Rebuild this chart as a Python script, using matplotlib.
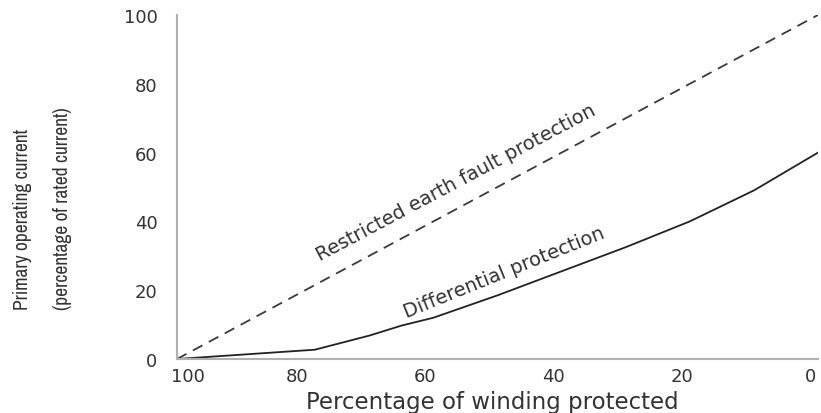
import matplotlib
matplotlib.use("Agg")
import matplotlib.pyplot as plt
import matplotlib.transforms as mtransforms
from matplotlib import font_manager as fm

# Data
winding_protected = [100, 0]
ref_current = [0, 100]

diff_x = [100, 78.5, 70, 65, 60, 50, 40, 30, 20, 10, 0]
diff_y = [0, 2.7, 6.8, 9.7, 12.0, 18.5, 25.5, 32.5, 40.0, 49.0, 60.0]

x_ticks = [100, 80, 60, 40, 20, 0]
y_ticks = [0, 20, 40, 60, 80, 100]

# pick a condensed font if one is installed
cond_family = "Roboto"
for f in fm.fontManager.ttflist:
    if "Condensed" in f.name or "Narrow" in f.name:
        cond_family = f.name
        break

W, H = 821, 414
fig = plt.figure(figsize=(W / 100, H / 100), dpi=100)
ax = fig.add_axes([177 / W, 1 - 360 / H, (818 - 177) / W, (360 - 16) / H])

ax.plot(winding_protected, ref_current, color="#3a3a3a", lw=1.3, ls=(0, (6, 4)))
ax.plot(diff_x, diff_y, color="#222222", lw=1.3)

ax.set_xlim(100, 0)
ax.set_ylim(0, 100)

for s in ["top", "right"]:
    ax.spines[s].set_visible(False)
for s in ["left", "bottom"]:
    ax.spines[s].set_color("#b0b0b0")
    ax.spines[s].set_linewidth(1.5)

ax.set_xticks(x_ticks)
ax.set_yticks(y_ticks)
ax.tick_params(axis="both", length=0, labelsize=13, labelcolor="#333333")
ax.tick_params(axis="x", pad=6)
ax.tick_params(axis="y", pad=14)
for lab in ax.get_xticklabels() + ax.get_yticklabels():
    lab.set_family("DejaVu Sans")

for i, lab in enumerate(ax.get_xticklabels()):
    dx = 11 if i == 0 else -8
    lab.set_transform(lab.get_transform() + mtransforms.ScaledTranslation(dx / 100, 0, fig.dpi_scale_trans))

ax.set_xlabel("Percentage of winding protected", fontsize=16.5, family="DejaVu Sans",
              color="#333333", labelpad=3)
ax.xaxis.set_label_coords((492 - 177) / (818 - 177), -0.09)

ysize = 14 if cond_family != "Roboto" else 12.5
fig.text(23 / W, 1 - 310 / H, "Primary operating current", rotation=90,
         ha="center", va="bottom", fontsize=ysize, color="#333333", family=cond_family)
fig.text(62 / W, 1 - 310 / H, "(percentage of rated current)", rotation=90,
         ha="center", va="bottom", fontsize=ysize, color="#333333", family=cond_family)

ax.text(56.5, 51.5, "Restricted earth fault protection", rotation=28,
        rotation_mode="anchor", ha="center", va="center", fontsize=14,
        family="DejaVu Sans", color="#333333")
ax.text(49, 25.3, "Differential protection", rotation=22,
        rotation_mode="anchor", ha="center", va="center", fontsize=14,
        family="DejaVu Sans", color="#333333")

fig.savefig("out.png", dpi=100)
